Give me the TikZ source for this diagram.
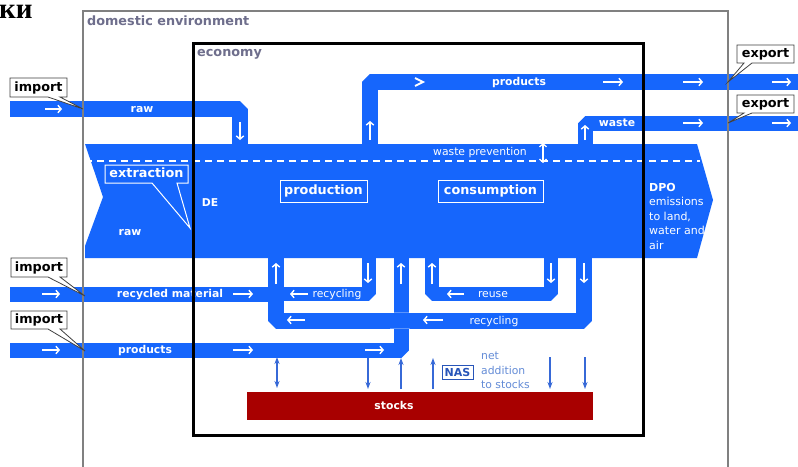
\documentclass[tikz,border=0pt]{standalone}
\usepackage{fontspec}
\setmainfont{DejaVu Sans}
\newfontfamily\cyrserif{Liberation Serif}
\usetikzlibrary{arrows.meta}

\definecolor{flow}{RGB}{22,102,252}
\definecolor{stockred}{RGB}{168,0,0}
\definecolor{envgray}{RGB}{128,128,128}
\definecolor{envtext}{RGB}{110,110,140}
\definecolor{thinblue}{RGB}{55,105,215}
\definecolor{nasblue}{RGB}{40,85,185}
\definecolor{nettext}{RGB}{100,140,215}

\newcommand\smallbold{\fontsize{10.8}{13}\selectfont\bfseries}
\newcommand\smallreg{\fontsize{10.8}{13}\selectfont}
\newcommand\bigbold{\fontsize{12.8}{15}\selectfont\bfseries}

\tikzset{
  stream/.style={draw=flow, line width=16pt, line join=bevel, line cap=butt},
  wa/.style={white, line width=1.4pt, -{Straight Barb[length=3.2pt,width=7.5pt]}},
  ba/.style={thinblue, line width=1.2pt, -{Stealth[length=7pt,width=5pt]}},
  bda/.style={thinblue, line width=1.2pt, {Stealth[length=7pt,width=5pt]}-{Stealth[length=7pt,width=5pt]}},
  flowlbl/.style={white, inner sep=0pt, text height=8pt, text depth=2pt, font=\smallbold},
  flowtxt/.style={white, inner sep=0pt, text height=8pt, text depth=2pt, font=\smallreg},
  callout/.style={fill=white, draw=black!75, line width=0.8pt, line join=miter},
  calltxt/.style={inner sep=0pt, text height=10pt, text depth=3pt, font=\bigbold},
  stagebox/.style={draw=white, line width=0.9pt, white, inner sep=0pt, text height=10pt, text depth=3pt, font=\bigbold},
}

\begin{document}
\begin{tikzpicture}[x=1pt,y=-1pt]
\useasboundingbox (0,0) rectangle (798,466);
\fill[white] (0,0) rectangle (798,466);

% fragment of a heading above the figure
\node[anchor=base west, inner sep=0pt, font=\cyrserif\bfseries\fontsize{29}{30}\selectfont] (head) at (-1,18) {ки};

% ---- flows leaving and entering the economy ----
% raw material import, turning down into the economy
\draw[stream] (10,109) -- (240,109) -- (240,150);
% products export
\draw[stream] (370,150) -- (370,82) -- (800,82);
% waste export
\draw[stream, line width=15pt] (585,150) -- (585,123) -- (800,123);
% recycled material import
\draw[stream, line width=15pt] (10,294.5) -- (276,294.5);
% products import, rising into the economy
\draw[stream, line width=15pt] (10,350) -- (401,350) -- (401,250);
% inner recycling loop (production)
\draw[stream, line width=14pt] (369,250) -- (369,294) -- (276,294);
% reuse loop (consumption)
\draw[stream, line width=14pt] (432,250) -- (432,294) -- (551,294) -- (551,250);
% outer recycling loop
\draw[stream] (584,250) -- (584,320.5) -- (276,320.5) -- (276,250);
% crossing of the outer recycling loop with the products riser
\draw[white, opacity=0.3, line width=0.5pt] (390,312.5) -- (410,312.5) (390,328.5) -- (410,328.5);

% ---- main throughput band ----
\fill[flow] (85,144) -- (697,144) -- (713,200) -- (697,258) -- (85,258) -- (85,246) -- (103,197) -- cycle;
\draw[white, line width=1.5pt, dash pattern=on 7pt off 5pt] (85,161) -- (700,161);
\draw[white, line width=1.3pt, {Straight Barb[length=3pt,width=7pt]}-{Straight Barb[length=3pt,width=7pt]}] (543,143) -- (543,163);
\node[flowtxt] (wprev) at (480,152) {waste prevention};

% extraction callout
\draw[white, line width=1pt, line join=miter] (105,165) -- (188,165) -- (188,183) -- (177,183) -- (190,228) -- (152,183) -- (105,183) -- cycle;
\node[white, calltxt] (extr) at (146.5,174) {extraction};

\node[flowlbl] (de) at (210,203) {DE};
\node[flowlbl] (rawin) at (130,232) {raw};
\node[stagebox, minimum width=87pt, minimum height=22pt] (prod) at (323.5,191) {production};
\node[stagebox, minimum width=105pt, minimum height=22pt] (cons) at (490.5,191) {consumption};

\node[anchor=base west, inner sep=0pt, white, font=\fontsize{11}{13}\selectfont\bfseries] (dpo) at (649,191) {DPO};
\node[anchor=base west, inner sep=0pt, white, font=\fontsize{11}{13}\selectfont] (dpo1) at (649,205.5) {emissions};
\node[anchor=base west, inner sep=0pt, white, font=\fontsize{11}{13}\selectfont] (dpo2) at (649,220) {to land,};
\node[anchor=base west, inner sep=0pt, white, font=\fontsize{11}{13}\selectfont] (dpo3) at (649,234.5) {water and};
\node[anchor=base west, inner sep=0pt, white, font=\fontsize{11}{13}\selectfont] (dpo4) at (649,249) {air};

% ---- white direction marks inside the flows ----
\draw[wa] (45,109) -- (62,109);
\draw[wa] (240,122) -- (240,140);
\draw[wa] (370,140) -- (370,121);
\draw[white, line width=2pt, line join=miter] (415,78) -- (423,82) -- (415,86);
\draw[wa] (603,82) -- (623,82);
\draw[wa] (683,82) -- (703,82);
\draw[wa] (772,82) -- (791,82);
\draw[wa] (585,140) -- (585,125);
\draw[wa] (683,123) -- (703,123);
\draw[wa] (772,123) -- (791,123);
\draw[wa] (42,294) -- (60,294);
\draw[wa] (233,294) -- (253,294);
\draw[wa] (42,350) -- (60,350);
\draw[wa] (233,350) -- (253,350);
\draw[wa] (365,350) -- (384,350);
\draw[wa] (276,284) -- (276,263);
\draw[wa] (368,263) -- (368,283);
\draw[wa] (308,294) -- (290,294);
\draw[wa] (401,284) -- (401,263);
\draw[wa] (432,284) -- (432,263);
\draw[wa] (551,263) -- (551,283);
\draw[wa] (464,294) -- (447,294);
\draw[wa] (584,263) -- (584,283);
\draw[wa] (305,320) -- (287,320);
\draw[wa] (443,320) -- (423,320);

% ---- flow labels ----
\node[flowlbl] (rawtop) at (142,109) {raw};
\node[flowlbl] (prodout) at (519,82) {products};
\node[flowlbl] (wasteout) at (617,123) {waste};
\node[flowlbl] (recmat) at (170,294.5) {recycled material};
\node[flowlbl] (prodin) at (145,350) {products};
\node[flowtxt] (recyc1) at (337,294) {recycling};
\node[flowtxt] (reuse) at (493,294) {reuse};
\node[flowtxt] (recyc2) at (494,321.5) {recycling};

% ---- stocks ----
\fill[stockred] (247,392) rectangle (593,420);
\node[flowlbl] (stocks) at (394,406) {stocks};
\draw[bda] (277,357) -- (277,388);
\draw[ba] (368,358) -- (368,389);
\draw[ba] (401,389) -- (401,358);
\draw[ba] (433,389) -- (433,358);
\draw[ba] (550,357) -- (550,389);
\draw[ba] (585,357) -- (585,389);
\node[draw=nasblue, line width=0.9pt, nasblue, inner sep=0pt, minimum width=31pt, minimum height=14pt, text height=8pt, text depth=0pt, font=\fontsize{11}{13}\selectfont\bfseries] (nas) at (457.5,372) {NAS};
\node[anchor=base west, inner sep=0pt, nettext, font=\fontsize{10.8}{13}\selectfont] (net1) at (481,359) {net};
\node[anchor=base west, inner sep=0pt, nettext, font=\fontsize{10.8}{13}\selectfont] (net2) at (481,374) {addition};
\node[anchor=base west, inner sep=0pt, nettext, font=\fontsize{10.8}{13}\selectfont] (net3) at (481,388) {to stocks};

% ---- system boundaries ----
\draw[envgray, line width=1.3pt] (83,470) -- (83,11) -- (728,11) -- (728,470);
\node[anchor=base west, inner sep=0pt, envtext, font=\bigbold] (domlbl) at (87,25) {domestic environment};
\draw[black, line width=3pt] (193,43) rectangle (643,435);
\node[anchor=base west, inner sep=0pt, envtext, font=\bigbold] (ecolbl) at (197,56) {economy};

% ---- import / export callouts ----
\draw[callout] (10,78) -- (67,78) -- (67,97) -- (60,97) -- (83,109) -- (48,97) -- (10,97) -- cycle;
\node[calltxt] (imp1) at (38.5,87.5) {import};
\draw[callout] (11,258) -- (67,258) -- (67,277) -- (60,277) -- (85,296) -- (48,277) -- (11,277) -- cycle;
\node[calltxt] (imp2) at (39,267.5) {import};
\draw[callout] (11,311) -- (67,311) -- (67,329) -- (60,329) -- (85,351) -- (48,329) -- (11,329) -- cycle;
\node[calltxt] (imp3) at (39,320) {import};
\draw[callout] (737,45) -- (794,45) -- (794,63) -- (752,63) -- (728,82) -- (744,63) -- (737,63) -- cycle;
\node[calltxt] (exp1) at (765.5,54) {export};
\draw[callout] (737,95) -- (794,95) -- (794,113) -- (752,113) -- (728,123) -- (744,113) -- (737,113) -- cycle;
\node[calltxt] (exp2) at (765.5,104) {export};
\end{tikzpicture}
\end{document}
